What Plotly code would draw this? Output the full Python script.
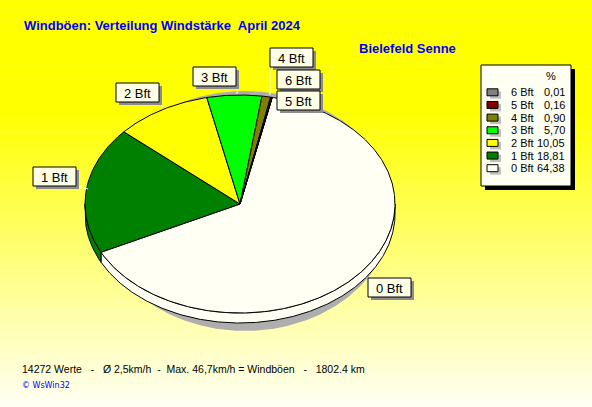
import numpy as np
import plotly.graph_objects as go

# Daten
klassen = ["0 Bft", "1 Bft", "2 Bft", "3 Bft", "4 Bft", "5 Bft", "6 Bft"]
prozent = [64.38, 18.81, 10.05, 5.70, 0.90, 0.16, 0.01]
farben = ["#FFFFF4", "#008000", "#FFFF00", "#00FF00", "#808000", "#800000", "#808080"]

titel = "Windböen: Verteilung Windstärke  April 2024"
station = "Bielefeld Senne"
fusszeile = "14272 Werte   -   Ø 2,5km/h  -  Max. 46,7km/h = Windböen   -   1802.4 km"
copyright_text = "© WsWin32"

# Layout der Torte (Pixel)
W, H = 592, 407
cx, cy, rx, ry, tiefe = 240, 204, 155, 109, 10
start = 12  # Grad im Uhrzeigersinn ab oben

# Beschriftungskaesten (links, oben)
label_pos = {
    "0 Bft": (368, 278), "1 Bft": (33, 167), "2 Bft": (116, 83),
    "3 Bft": (193, 67), "4 Bft": (270, 48), "6 Bft": (277, 70),
    "5 Bft": (277, 91),
}
leader = {
    "1 Bft": (76, 186, 88, 189), "2 Bft": (159, 102, 163, 107),
    "3 Bft": (237, 86, 237, 94), "4 Bft": (270, 67, 270, 95),
}
FONT = "Liberation Sans, Arial, sans-serif"


def arc(a0, a1, ox=cx, oy=cy, ax=rx, ay=ry):
    n = max(3, int(abs(a1 - a0) * 2) + 2)
    t = np.radians(np.linspace(a0, a1, n))
    return ox + ax * np.sin(t), oy - ay * np.cos(t)


fig = go.Figure()

# Schatten
sx, sy = arc(0, 360, 245, 211, 148, 120)
fig.add_trace(go.Scatter(x=sx, y=sy, fill="toself", fillcolor="#AEAEAE",
                         line=dict(width=0), mode="lines", hoverinfo="skip"))

anteile = np.array(prozent) / sum(prozent) * 360
grenzen = start + np.concatenate([[0], np.cumsum(anteile)])

# Seitenwand (vorne sichtbar)
for i, k in enumerate(klassen):
    lo, hi = max(grenzen[i], 90), min(grenzen[i + 1], 270)
    if hi <= lo:
        continue
    ax_, ay_ = arc(lo, hi)
    fig.add_trace(go.Scatter(
        x=np.concatenate([ax_, ax_[::-1], ax_[:1]]),
        y=np.concatenate([ay_, ay_[::-1] + tiefe, ay_[:1]]),
        fill="toself", fillcolor=farben[i], mode="lines",
        line=dict(color="black", width=1), hoverinfo="skip"))

# Tortenstuecke
for i, k in enumerate(klassen):
    ax_, ay_ = arc(grenzen[i], grenzen[i + 1])
    fig.add_trace(go.Scatter(
        x=np.concatenate([[cx], ax_, [cx]]),
        y=np.concatenate([[cy], ay_, [cy]]),
        fill="toself", fillcolor=farben[i], mode="lines",
        line=dict(color="black", width=1),
        name=k, text=f"{k}: {prozent[i]:.2f} %", hoverinfo="text"))

shapes = []
# Hintergrundverlauf
n_streifen = 80
for j in range(n_streifen):
    y0 = j * H / n_streifen
    ym = y0 + H / n_streifen / 2
    b = 0 if ym < 110 else min(245, (ym - 110) / (H - 110) * 245)
    shapes.append(dict(type="rect", xref="x", yref="y", x0=0, x1=W, y0=y0,
                       y1=y0 + H / n_streifen + 0.5, fillcolor=f"rgb(255,255,{int(b)})",
                       line=dict(width=0), layer="below"))

annotations = []
# Beschriftungen an der Torte
for k, (lx, ly) in label_pos.items():
    if k in leader:
        x0, y0, x1, y1 = leader[k]
        shapes.append(dict(type="line", x0=x0, y0=y0, x1=x1, y1=y1,
                           line=dict(color="#FFFFFF", width=1)))
    shapes.append(dict(type="rect", x0=lx + 3, y0=ly + 3, x1=lx + 46, y1=ly + 22,
                       fillcolor="#8C8C8C", line=dict(width=0)))
    shapes.append(dict(type="rect", x0=lx, y0=ly, x1=lx + 43, y1=ly + 19,
                       fillcolor="#FFFFE6", line=dict(color="black", width=1)))
    annotations.append(dict(x=lx + 21.5, y=ly + 10, text=k, showarrow=False,
                            xanchor="center", yanchor="middle",
                            font=dict(family=FONT, size=13, color="black")))

# Legende
shapes.append(dict(type="rect", x0=485, y0=69, x1=575, y1=190,
                   fillcolor="black", line=dict(width=0)))
shapes.append(dict(type="rect", x0=481, y0=65, x1=571, y1=186,
                   fillcolor="#FFFFF2", line=dict(color="black", width=1)))
annotations.append(dict(x=551, y=76, text="%", showarrow=False, xanchor="center",
                        yanchor="middle", font=dict(family=FONT, size=11, color="black")))
for r, i in enumerate(range(len(klassen) - 1, -1, -1)):
    ry_ = 92.3 + 12.65 * r
    shapes.append(dict(type="rect", x0=490, y0=ry_ - 1, x1=501, y1=ry_ + 6.5,
                       fillcolor="#C0C0C0", line=dict(width=0)))
    shapes.append(dict(type="rect", x0=487, y0=ry_ - 3.5, x1=498, y1=ry_ + 3.5,
                       fillcolor=farben[i], line=dict(color="black", width=1)))
    annotations.append(dict(x=509, y=ry_, text=klassen[i], showarrow=False,
                            xanchor="left", yanchor="middle",
                            font=dict(family=FONT, size=11, color="black")))
    annotations.append(dict(x=567, y=ry_, text=f"{prozent[i]:.2f}".replace(".", ","),
                            showarrow=False, xanchor="right", yanchor="middle",
                            font=dict(family=FONT, size=11, color="black")))

# Texte
annotations.append(dict(x=22, y=25, text=f"<b>{titel}</b>", showarrow=False,
                        xanchor="left", yanchor="middle",
                        font=dict(family=FONT, size=13, color="#0000FF")))
annotations.append(dict(x=357, y=48, text=f"<b>{station}</b>", showarrow=False,
                        xanchor="left", yanchor="middle",
                        font=dict(family=FONT, size=13, color="#0000FF")))
annotations.append(dict(x=20, y=369, text=fusszeile, showarrow=False,
                        xanchor="left", yanchor="middle",
                        font=dict(family=FONT, size=10.5, color="black")))
annotations.append(dict(x=20, y=385, text=copyright_text, showarrow=False,
                        xanchor="left", yanchor="middle",
                        font=dict(family="DejaVu Sans, sans-serif", size=8, color="#0000FF")))

fig.update_layout(
    width=W, height=H, margin=dict(l=0, r=0, t=0, b=0),
    paper_bgcolor="#FFFFF0", plot_bgcolor="rgba(0,0,0,0)",
    showlegend=False, shapes=shapes, annotations=annotations,
    xaxis=dict(range=[0, W], visible=False, fixedrange=True),
    yaxis=dict(range=[H, 0], visible=False, fixedrange=True),
)

fig.write_html("out.html", config={"displayModeBar": False},
               post_script="document.body.style.margin='0';document.body.style.overflow='hidden';")
